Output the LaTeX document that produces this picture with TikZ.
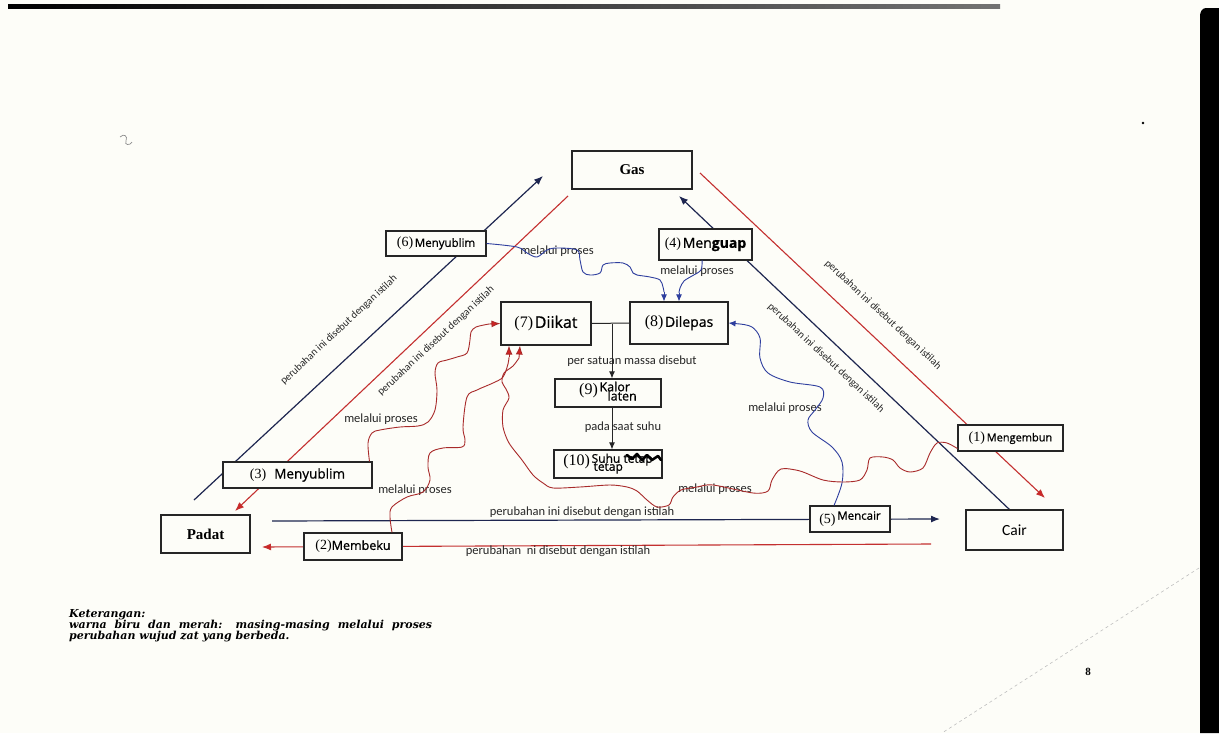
\documentclass[tikz,border=0pt]{standalone}
\usepackage{fontspec}
\setmainfont{Liberation Serif}
\newfontfamily\labfont{Carlito}
\newfontfamily\handfont[FakeBold=0.8]{Open Sans}
\newfontfamily\notefont{DejaVu Serif}
\usetikzlibrary{arrows.meta,calc}
\pgfdeclarelayer{paper}
\pgfdeclarelayer{background}
\pgfsetlayers{paper,background,main}

\definecolor{paperc}{HTML}{FDFDF8}
\definecolor{navy}{HTML}{1E2650}
\definecolor{inkblue}{HTML}{2E3E9E}
\definecolor{inkred}{HTML}{A82A2A}
\definecolor{linered}{HTML}{C43030}
\definecolor{tipred}{HTML}{D22222}

% printed numbers and handwritten answers inside the boxes
\newcommand{\boxnum}[2][14]{{\fontsize{#1}{#1}\selectfont #2}}
\newcommand{\handw}[2][13]{{\handfont\fontsize{#1}{#1}\selectfont #2}}

\tikzset{
  box/.style={draw=black!85, line width=1.1pt, fill=paperc, inner sep=0pt},
  lab/.style={font=\labfont\fontsize{12.5}{12.5}\selectfont, inner sep=0pt, text=black!85},
  diag/.style={font=\labfont\fontsize{10.5}{10.5}\selectfont, inner sep=0pt, text=black!85},
  navyline/.style={draw=navy, line width=1.2pt},
  redline/.style={draw=linered, line width=1.1pt},
  bluecurve/.style={draw=inkblue, line width=0.9pt},
  redcurve/.style={draw=inkred, line width=0.9pt},
  navytip/.style={-{Latex[length=9pt,width=7pt]}},
  redtip/.style={-{Latex[length=9pt,width=7pt,fill=tipred]}},
  bluetip/.style={-{Latex[length=7pt,width=6pt]}},
  note/.style={font=\notefont\itshape\bfseries\fontsize{11}{11}\selectfont, inner sep=0pt},
}

\begin{document}
\begin{tikzpicture}[x=1pt,y=-1pt]
\begin{pgfonlayer}{paper}
  \fill[paperc] (0,0) rectangle (1219,733);
  % edges of the scanned sheet
  \shade[left color=black, right color=black!55] (8,4.5) rectangle (1000,8.5);
  \fill[black] (1219,8) -- (1206,8) to[out=180,in=90] (1200,16) -- (1200,733) -- (1219,733) -- cycle;
  \draw[black!25, dashed, line width=0.6pt] (1199,568) -- (942,733);
  \fill[black] (1143,123) circle (1.3);
  \draw[black!45, line width=0.7pt] (120,137) .. controls (124,133) and (128,136) .. (126,141) .. controls (124,145) and (130,146) .. (132,142);
\end{pgfonlayer}
\useasboundingbox (0,0) rectangle (1219,733);

% ---- the three states ----
\node[box, minimum width=120, minimum height=38, font=\bfseries\fontsize{15}{15}\selectfont] (gas) at (632,170) {Gas};
\node[box, minimum width=89, minimum height=38, font=\bfseries\fontsize{15}{15}\selectfont] (padat) at (205.5,534) {Padat};
\node[box, minimum width=97, minimum height=40, font=\labfont\fontsize{15.5}{15.5}\selectfont] (cair) at (1014.5,530) {Cair};

% ---- answer boxes ----
\node[box, minimum width=100, minimum height=25] (b6) at (436,243.5) {\boxnum{(6)}\,\handw[11.5]{Menyublim}};
\node[box, minimum width=93, minimum height=31] (b4) at (705.5,244.5) {\boxnum{(4)}\,\handw[14]{Men\textbf{guap}}};
\node[box, minimum width=90, minimum height=43] (b7) at (546,323.5) {\boxnum[16]{(7)}\,\handw[16]{Diikat}};
\node[box, minimum width=98, minimum height=42] (b8) at (679,323) {\boxnum[16]{(8)}\,\handw[14]{Dilepas}\hspace{6pt}};
\node[box, minimum width=106, minimum height=28] (b9) at (608,393) {\boxnum[16]{(9)}\,\raisebox{-2pt}{\handw[12.5]{\begin{tabular}{@{}l@{}}Kalor\\[-4pt]\hspace{8pt}laten\end{tabular}}}\hspace{12pt}};
\node[box, minimum width=108, minimum height=28] (b10) at (608,464) {\boxnum[16]{(10)}\,\raisebox{-2pt}{\handw[12]{\begin{tabular}{@{}l@{}}Suhu tetap\\[-4pt]\hspace{2pt}tetap\hspace{30pt}\end{tabular}}}};
\node[box, minimum width=149, minimum height=26] (b3) at (297.5,475) {\boxnum{(3)}\hspace{8pt}\handw[13.5]{Menyublim}\hspace{58pt}};
\node[box, minimum width=98, minimum height=27] (b2) at (353,546.5) {\boxnum{(2)}\handw[12.5]{Membeku}};
\node[box, minimum width=80, minimum height=26] (b5) at (850,519) {\boxnum{(5)}\,\raisebox{4pt}{\handw[11.5]{Mencair}}};
\node[box, minimum width=105, minimum height=26] (b1) at (1010.5,438) {\boxnum{(1)}\,\handw[11]{Mengembun}};

% crossed-out word in box (10)
\begin{scope}[shift={(b10.center)}]
  \draw[black, line width=2.6pt, line cap=round, line join=round]
    (19,-9) -- (24,-5) -- (29,-10) -- (34,-4) -- (39,-9) -- (44,-4) -- (50,-8) -- (53,-4);
\end{scope}

% ---- straight connectors between the states ----
\begin{pgfonlayer}{background}
  \coordinate (pg0) at (194,500);  \coordinate (pg1) at (543,176);
  \coordinate (gp0) at (568,196);  \coordinate (gp1) at (235,511);
  \coordinate (gc0) at (700,173);  \coordinate (gc1) at (1045,498);
  \coordinate (cg0) at (1010,510); \coordinate (cg1) at (679,196);
  \coordinate (pc0) at (272,521);  \coordinate (pc1) at (940,519);
  \coordinate (cp0) at (931,544);  \coordinate (cp1) at (262,547);
  \draw[navyline, navytip] (pg0) -- (pg1);
  \draw[redline, redtip] (gp0) -- (gp1);
  \draw[redline, redtip] (gc0) -- (gc1);
  \draw[navyline, navytip] (cg0) -- (cg1);
  \draw[navyline, navytip] (pc0) -- (pc1);
  \draw[redline, redtip] (cp0) -- (cp1);
\end{pgfonlayer}

% ---- labels of the straight connectors ----
\node[diag, rotate=43] (t1) at (339,330) {perubahan ini disebut dengan istilah};
\node[diag, rotate=43] (t2) at (436,341) {perubahan ini disebut dengan istilah};
\node[diag, rotate=-43] (t3) at (883,315) {perubahan ini disebut dengan istilah};
\node[diag, rotate=-43] (t4) at (826,358) {perubahan ini disebut dengan istilah};
\node[lab] (t5) at (582,512) {perubahan ini disebut dengan istilah};
\node[lab] (t6) at (558,551) {perubahan\ \ ni disebut dengan istilah};

% ---- central chain (7)/(8) -> (9) -> (10) ----
\coordinate (jn) at (612,324);
\draw[black!85, line width=1pt] (b7.east) -- (b8.west);
\draw[black!85, line width=1pt, bluetip] (jn) -- (jn |- b9.north);
\draw[black!85, line width=1pt, bluetip] (b9.south -| jn) -- (b10.north -| jn);
\node[lab] (t7) at (632,361) {per satuan massa disebut};
\node[lab] (t8) at (623,427) {pada saat suhu};

% ---- "melalui proses" labels ----
\node[lab] (m1) at (557,251) {melalui proses};
\node[lab] (m2) at (697,271) {melalui proses};
\node[lab] (m3) at (381,419) {melalui proses};
\node[lab] (m4) at (415,490) {melalui proses};
\node[lab] (m5) at (715,489) {melalui proses};
\node[lab] (m6) at (785,408) {melalui proses};

% ---- hand-drawn blue paths into (8) ----
\draw[bluecurve] plot[smooth, tension=0.55] coordinates {
  (b6.east) (517,247) (527,253) (537,257) (547,250) (557,248) (577,250) (580,260)
  (583,272) (590,275) (600,273) (603,265) (610,263) (623,263) (630,267) (633,273)
  (637,275) (650,277) (660,280) (663,287) (664,292)};
\draw[bluecurve, bluetip] (664,292) -- ($(b8.north)+(-15,0)$);
\draw[bluecurve] plot[smooth, tension=0.55] coordinates {
  (702,260) (701,270) (692,276) (684,281) (680,288) (679,293)};
\draw[bluecurve, bluetip] (679,293) -- (b8.north);
\draw[bluecurve] plot[smooth, tension=0.55] coordinates {
  ($(b5.north)+(-16,0)$) (842,483) (842,462) (832,447) (812,432) (808,420) (815,410)
  (823,398) (820,387) (790,382) (768,373) (760,358) (760,338) (752,327) (740,324)};
\draw[bluecurve, bluetip] (740,324) -- (b8.east);

% ---- hand-drawn red paths into (7) ----
\draw[redcurve] plot[smooth, tension=0.55] coordinates {
  ($(b3.north)+(72,0)$) (368,443) (372,433) (380,430) (400,427) (418,426) (428,422)
  (435,410) (437,390) (435,373) (438,363) (447,360) (457,357) (467,353) (470,340)
  (471,332) (476,327) (489,324)};
\draw[redcurve, redtip] (489,324) -- (b7.west);
\draw[redcurve] plot[smooth, tension=0.55] coordinates {
  ($(b2.north)+(39,0)$) (390,517) (392,507) (407,497) (423,492) (430,480) (428,467)
  (430,453) (443,448) (462,447) (465,440) (463,427) (467,397) (477,390) (493,383)
  (503,377) (508,364) (509,357)};
\draw[redcurve, redtip] (509,357) -- ($(b7.south)+(-37,0)$);
\draw[redcurve] plot[smooth, tension=0.5] coordinates {
  ($(b1.south west)+(0,-3)$) (947,443) (937,443) (930,453) (923,468) (910,472) (900,468)
  (893,460) (883,457) (870,458) (867,470) (860,480) (843,482) (823,480) (800,471)
  (781,469) (772,480) (768,491) (753,493) (713,485) (697,487) (681,490) (673,497)
  (669,505) (657,507) (647,500) (637,491) (627,487) (610,485) (580,487) (553,488)
  (543,483) (533,475) (522,460) (509,443) (503,427) (503,410) (509,398) (506,389)
  (502,382) (504,373) (513,366) (519,358)};
\draw[redcurve, redtip] (519,358) -- ($(b7.south)+(-26,0)$);

% ---- legend and page number ----
\node[note, anchor=base west] (k1) at (69,617) {Keterangan:};
\node[note, anchor=base west] (k2) at (69,628) {\makebox[363pt][s]{warna biru dan merah: masing-masing melalui proses}};
\node[note, anchor=base west] (k3) at (69,639) {perubahan wujud zat yang berbeda.};
\node[font=\bfseries\fontsize{11}{11}\selectfont, inner sep=0pt] (pg) at (1088,672) {8};
\end{tikzpicture}
\end{document}
